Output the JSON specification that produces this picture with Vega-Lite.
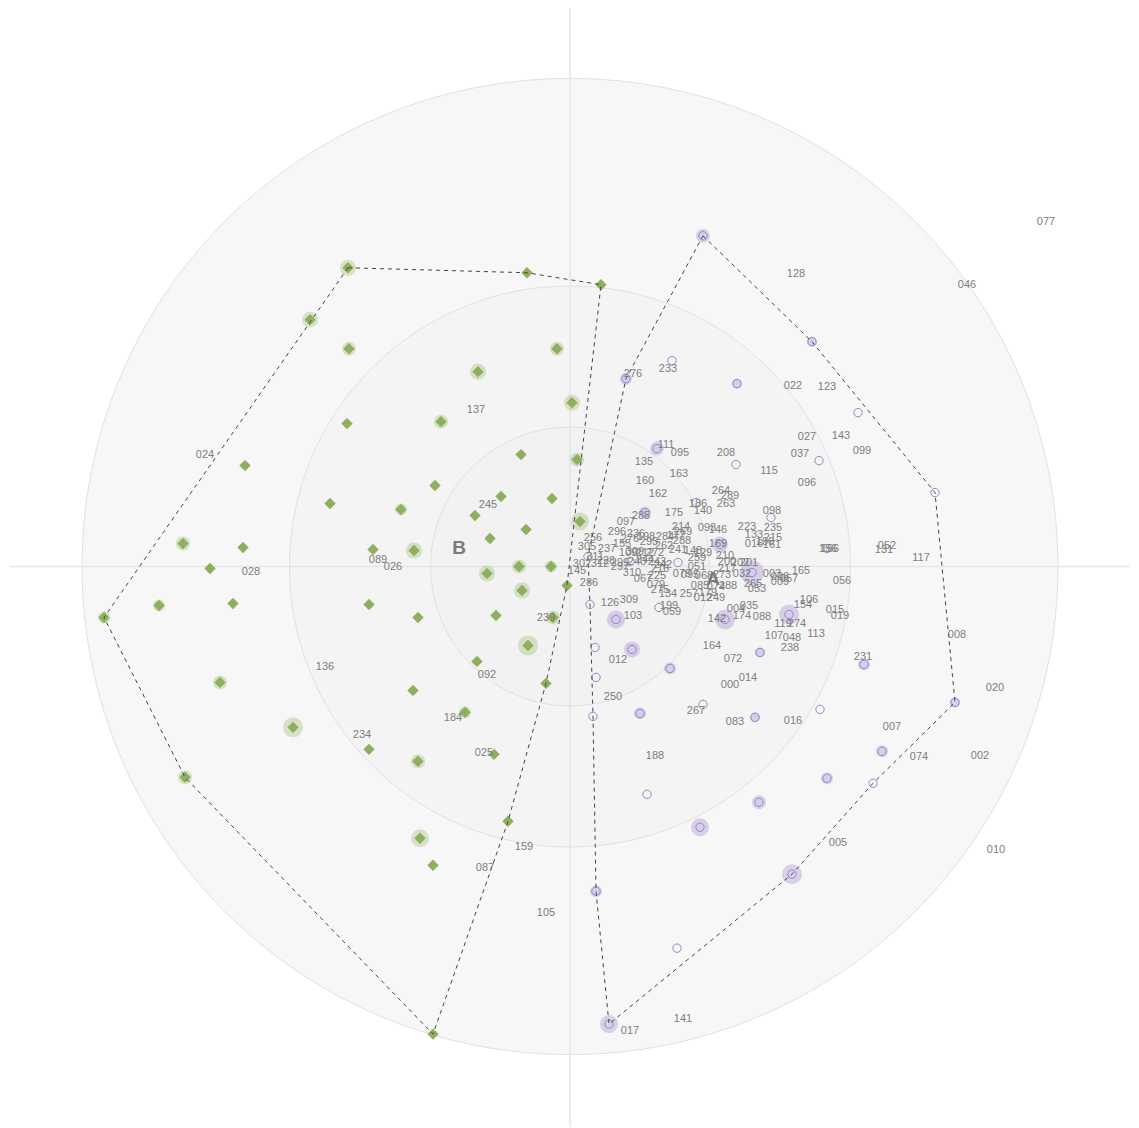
{
  "$schema": "https://vega.github.io/schema/vega-lite/v6.json",
  "width": 1139,
  "height": 1128,
  "padding": 0,
  "autosize": {"type": "fit", "contains": "padding"},
  "background": "#ffffff",
  "config": {"view": {"stroke": null}},
  "datasets": {
    "center": [{"x": 0, "y": 0}],
    "vline": [{"x": 0, "y": -561, "y2": 559}],
    "hline": [{"y": 0, "x": -560, "x2": 560}],
    "green": [
      {"x": -222, "y": 299, "h": 8}, {"x": -43, "y": 294, "h": 0}, {"x": 31, "y": 282, "h": 0},
      {"x": -260, "y": 247, "h": 8}, {"x": -221, "y": 218, "h": 7}, {"x": -13, "y": 218, "h": 7},
      {"x": -92, "y": 195, "h": 8}, {"x": 2, "y": 164, "h": 8}, {"x": -223, "y": 143, "h": 0},
      {"x": -129, "y": 145, "h": 7}, {"x": -49, "y": 112, "h": 0}, {"x": 7, "y": 107, "h": 7},
      {"x": -325, "y": 101, "h": 0}, {"x": -135, "y": 81, "h": 0}, {"x": -69, "y": 70, "h": 0},
      {"x": -18, "y": 68, "h": 0}, {"x": -240, "y": 63, "h": 0}, {"x": -169, "y": 57, "h": 6},
      {"x": -95, "y": 51, "h": 0}, {"x": 10, "y": 45, "h": 9}, {"x": -44, "y": 37, "h": 0},
      {"x": -80, "y": 28, "h": 0}, {"x": -387, "y": 23, "h": 7}, {"x": -327, "y": 19, "h": 0},
      {"x": -197, "y": 17, "h": 0}, {"x": -156, "y": 16, "h": 8}, {"x": -360, "y": -2, "h": 0},
      {"x": -51, "y": 0, "h": 7}, {"x": -19, "y": 0, "h": 6}, {"x": -83, "y": -7, "h": 8},
      {"x": -3, "y": -19, "h": 0}, {"x": -48, "y": -24, "h": 8}, {"x": -411, "y": -39, "h": 6},
      {"x": -337, "y": -37, "h": 0}, {"x": -466, "y": -51, "h": 6}, {"x": -201, "y": -38, "h": 0},
      {"x": -152, "y": -51, "h": 0}, {"x": -74, "y": -49, "h": 0}, {"x": -17, "y": -51, "h": 7},
      {"x": -42, "y": -79, "h": 10}, {"x": -350, "y": -116, "h": 7}, {"x": -93, "y": -95, "h": 0},
      {"x": -24, "y": -117, "h": 0}, {"x": -157, "y": -124, "h": 0}, {"x": -105, "y": -146, "h": 6},
      {"x": -277, "y": -161, "h": 10}, {"x": -201, "y": -183, "h": 0}, {"x": -152, "y": -195, "h": 7},
      {"x": -76, "y": -188, "h": 0}, {"x": -385, "y": -211, "h": 7}, {"x": -62, "y": -255, "h": 0},
      {"x": -150, "y": -272, "h": 9}, {"x": -137, "y": -299, "h": 0}, {"x": -137, "y": -468, "h": 0}
    ],
    "purple": [
      {"x": 133, "y": 331, "h": 7}, {"x": 242, "y": 225, "h": 5}, {"x": 365, "y": 74, "h": 0},
      {"x": 385, "y": -136, "h": 5}, {"x": 303, "y": -217, "h": 0}, {"x": 222, "y": -308, "h": 10},
      {"x": 39, "y": -458, "h": 9}, {"x": 26, "y": -325, "h": 6}, {"x": 23, "y": -150, "h": 0},
      {"x": 56, "y": 188, "h": 6}, {"x": 102, "y": 206, "h": 0}, {"x": 167, "y": 183, "h": 5},
      {"x": 288, "y": 154, "h": 0}, {"x": 249, "y": 106, "h": 0}, {"x": 87, "y": 118, "h": 7},
      {"x": 166, "y": 102, "h": 0}, {"x": 75, "y": 54, "h": 6}, {"x": 126, "y": 64, "h": 0},
      {"x": 150, "y": 22, "h": 8}, {"x": 201, "y": 49, "h": 0}, {"x": 257, "y": 18, "h": 0},
      {"x": 182, "y": -6, "h": 12}, {"x": 108, "y": 4, "h": 0}, {"x": 60, "y": 5, "h": 0},
      {"x": 18, "y": 10, "h": 0}, {"x": 20, "y": -38, "h": 0}, {"x": 46, "y": -53, "h": 9},
      {"x": 89, "y": -41, "h": 0}, {"x": 155, "y": -53, "h": 10}, {"x": 219, "y": -48, "h": 10},
      {"x": 25, "y": -81, "h": 0}, {"x": 62, "y": -83, "h": 8}, {"x": 26, "y": -111, "h": 0},
      {"x": 100, "y": -102, "h": 6}, {"x": 190, "y": -86, "h": 5}, {"x": 70, "y": -147, "h": 6},
      {"x": 133, "y": -138, "h": 0}, {"x": 185, "y": -151, "h": 5}, {"x": 250, "y": -143, "h": 0},
      {"x": 294, "y": -98, "h": 6}, {"x": 312, "y": -185, "h": 6}, {"x": 257, "y": -212, "h": 6},
      {"x": 189, "y": -236, "h": 7}, {"x": 130, "y": -261, "h": 9}, {"x": 77, "y": -228, "h": 0},
      {"x": 107, "y": -382, "h": 0}
    ],
    "hulls": [
      {"g": "B", "o": 0, "x": -222, "y": 299}, {"g": "B", "o": 1, "x": -43, "y": 294},
      {"g": "B", "o": 2, "x": 31, "y": 282}, {"g": "B", "o": 3, "x": -3, "y": -19},
      {"g": "B", "o": 4, "x": -24, "y": -117}, {"g": "B", "o": 5, "x": -62, "y": -255},
      {"g": "B", "o": 6, "x": -137, "y": -468}, {"g": "B", "o": 7, "x": -385, "y": -211},
      {"g": "B", "o": 8, "x": -466, "y": -51}, {"g": "B", "o": 9, "x": -222, "y": 299},
      {"g": "A", "o": 0, "x": 133, "y": 331}, {"g": "A", "o": 1, "x": 242, "y": 225},
      {"g": "A", "o": 2, "x": 365, "y": 74}, {"g": "A", "o": 3, "x": 385, "y": -136},
      {"g": "A", "o": 4, "x": 303, "y": -217}, {"g": "A", "o": 5, "x": 222, "y": -308},
      {"g": "A", "o": 6, "x": 39, "y": -458}, {"g": "A", "o": 7, "x": 26, "y": -325},
      {"g": "A", "o": 8, "x": 23, "y": -150}, {"g": "A", "o": 9, "x": 20, "y": -38},
      {"g": "A", "o": 10, "x": 18, "y": 10}, {"g": "A", "o": 11, "x": 56, "y": 188},
      {"g": "A", "o": 12, "x": 133, "y": 331}
    ],
    "labels": [
      {"t": "077", "x": 476, "y": 345}, {"t": "046", "x": 397, "y": 282}, {"t": "128", "x": 226, "y": 293},
      {"t": "233", "x": 98, "y": 198}, {"t": "276", "x": 63, "y": 193}, {"t": "022", "x": 223, "y": 181},
      {"t": "123", "x": 257, "y": 180}, {"t": "137", "x": -94, "y": 157}, {"t": "027", "x": 237, "y": 130},
      {"t": "143", "x": 271, "y": 131}, {"t": "099", "x": 292, "y": 116}, {"t": "111", "x": 96, "y": 122},
      {"t": "095", "x": 110, "y": 114}, {"t": "208", "x": 156, "y": 114}, {"t": "037", "x": 230, "y": 113},
      {"t": "024", "x": -365, "y": 112}, {"t": "135", "x": 74, "y": 105}, {"t": "115", "x": 199, "y": 96},
      {"t": "163", "x": 109, "y": 93}, {"t": "096", "x": 237, "y": 84}, {"t": "160", "x": 75, "y": 86},
      {"t": "264", "x": 151, "y": 76}, {"t": "289", "x": 160, "y": 71}, {"t": "162", "x": 88, "y": 73},
      {"t": "186", "x": 128, "y": 63}, {"t": "263", "x": 156, "y": 63}, {"t": "245", "x": -82, "y": 62},
      {"t": "175", "x": 104, "y": 54}, {"t": "140", "x": 133, "y": 56}, {"t": "098", "x": 202, "y": 56},
      {"t": "285", "x": 71, "y": 51}, {"t": "097", "x": 56, "y": 45}, {"t": "223", "x": 177, "y": 40},
      {"t": "235", "x": 203, "y": 39}, {"t": "214", "x": 111, "y": 40}, {"t": "093", "x": 137, "y": 39},
      {"t": "146", "x": 148, "y": 37}, {"t": "269", "x": 113, "y": 35}, {"t": "296", "x": 47, "y": 35},
      {"t": "236", "x": 66, "y": 33}, {"t": "133", "x": 184, "y": 32}, {"t": "215", "x": 203, "y": 29},
      {"t": "256", "x": 23, "y": 29}, {"t": "198", "x": 76, "y": 30}, {"t": "276", "x": 60, "y": 28},
      {"t": "284", "x": 95, "y": 30}, {"t": "177", "x": 106, "y": 31}, {"t": "288", "x": 112, "y": 26},
      {"t": "295", "x": 79, "y": 25}, {"t": "262", "x": 94, "y": 21}, {"t": "016", "x": 184, "y": 23},
      {"t": "161", "x": 202, "y": 22}, {"t": "106", "x": 195, "y": 25}, {"t": "169", "x": 148, "y": 23},
      {"t": "156", "x": 258, "y": 18}, {"t": "166", "x": 260, "y": 18}, {"t": "052", "x": 317, "y": 21},
      {"t": "131", "x": 314, "y": 17}, {"t": "117", "x": 351, "y": 9}, {"t": "305", "x": 17, "y": 20},
      {"t": "237", "x": 37, "y": 18}, {"t": "155", "x": 52, "y": 23}, {"t": "241", "x": 108, "y": 17},
      {"t": "148", "x": 123, "y": 16}, {"t": "129", "x": 133, "y": 14}, {"t": "309", "x": 65, "y": 15},
      {"t": "109", "x": 58, "y": 14}, {"t": "212", "x": 75, "y": 14}, {"t": "272", "x": 85, "y": 14},
      {"t": "210", "x": 155, "y": 11}, {"t": "259", "x": 127, "y": 9}, {"t": "200", "x": 157, "y": 5},
      {"t": "202", "x": 170, "y": 4}, {"t": "201", "x": 179, "y": 4}, {"t": "311", "x": 25, "y": 10},
      {"t": "302", "x": 12, "y": 3}, {"t": "312", "x": 30, "y": 2}, {"t": "226", "x": 36, "y": 6},
      {"t": "299", "x": 50, "y": 4}, {"t": "297", "x": 50, "y": -1}, {"t": "240", "x": 67, "y": 5},
      {"t": "244", "x": 75, "y": 7}, {"t": "243", "x": 87, "y": 5}, {"t": "242", "x": 93, "y": 1},
      {"t": "216", "x": 90, "y": -3}, {"t": "051", "x": 127, "y": -1}, {"t": "273", "x": 152, "y": -9},
      {"t": "217", "x": 157, "y": -3}, {"t": "032", "x": 172, "y": -8}, {"t": "225", "x": 87, "y": -10},
      {"t": "310", "x": 62, "y": -7}, {"t": "067", "x": 73, "y": -13}, {"t": "079", "x": 112, "y": -8},
      {"t": "095", "x": 120, "y": -9}, {"t": "068", "x": 134, "y": -10}, {"t": "085", "x": 130, "y": -20},
      {"t": "074", "x": 146, "y": -21}, {"t": "288", "x": 158, "y": -20}, {"t": "079", "x": 86, "y": -19},
      {"t": "275", "x": 90, "y": -24}, {"t": "134", "x": 98, "y": -28}, {"t": "257", "x": 119, "y": -28},
      {"t": "179", "x": 138, "y": -27}, {"t": "012", "x": 133, "y": -32}, {"t": "249", "x": 146, "y": -32},
      {"t": "003", "x": 202, "y": -8}, {"t": "006", "x": 210, "y": -11}, {"t": "009", "x": 210, "y": -16},
      {"t": "057", "x": 219, "y": -13}, {"t": "165", "x": 231, "y": -5}, {"t": "265", "x": 183, "y": -18},
      {"t": "053", "x": 187, "y": -23}, {"t": "056", "x": 272, "y": -15}, {"t": "004", "x": 166, "y": -43},
      {"t": "035", "x": 179, "y": -40}, {"t": "174", "x": 172, "y": -50}, {"t": "088", "x": 192, "y": -51},
      {"t": "142", "x": 147, "y": -53}, {"t": "106", "x": 239, "y": -34}, {"t": "154", "x": 233, "y": -39},
      {"t": "119", "x": 213, "y": -58}, {"t": "274", "x": 227, "y": -58}, {"t": "015", "x": 265, "y": -44},
      {"t": "019", "x": 270, "y": -50}, {"t": "126", "x": 40, "y": -37}, {"t": "309", "x": 59, "y": -34},
      {"t": "103", "x": 63, "y": -50}, {"t": "199", "x": 99, "y": -40}, {"t": "059", "x": 102, "y": -46},
      {"t": "107", "x": 204, "y": -70}, {"t": "048", "x": 222, "y": -72}, {"t": "113", "x": 246, "y": -68},
      {"t": "286", "x": 19, "y": -17}, {"t": "145", "x": 7, "y": -5}, {"t": "164", "x": 142, "y": -80},
      {"t": "072", "x": 163, "y": -93}, {"t": "238", "x": 220, "y": -82}, {"t": "012", "x": 48, "y": -94},
      {"t": "000", "x": 160, "y": -119}, {"t": "014", "x": 178, "y": -112}, {"t": "250", "x": 43, "y": -131},
      {"t": "267", "x": 126, "y": -145}, {"t": "083", "x": 165, "y": -156}, {"t": "016", "x": 223, "y": -155},
      {"t": "188", "x": 85, "y": -190}, {"t": "231", "x": 293, "y": -91}, {"t": "007", "x": 322, "y": -161},
      {"t": "074", "x": 349, "y": -191}, {"t": "005", "x": 268, "y": -277}, {"t": "002", "x": 410, "y": -190},
      {"t": "010", "x": 426, "y": -284}, {"t": "020", "x": 425, "y": -122}, {"t": "008", "x": 387, "y": -69},
      {"t": "017", "x": 60, "y": -465}, {"t": "141", "x": 113, "y": -453}, {"t": "105", "x": -24, "y": -347},
      {"t": "159", "x": -46, "y": -281}, {"t": "087", "x": -85, "y": -302}, {"t": "025", "x": -86, "y": -187},
      {"t": "184", "x": -117, "y": -152}, {"t": "234", "x": -208, "y": -169}, {"t": "136", "x": -245, "y": -101},
      {"t": "092", "x": -83, "y": -109}, {"t": "239", "x": -24, "y": -52}, {"t": "028", "x": -319, "y": -6},
      {"t": "089", "x": -192, "y": 7}, {"t": "026", "x": -177, "y": -1}
    ],
    "groups": [
      {"t": "A", "x": 143, "y": -13},
      {"t": "B", "x": -111, "y": 19}
    ]
  },
  "encoding": {
    "x": {"field": "x", "type": "quantitative", "axis": null, "scale": {"domain": [-570, 569], "zero": false, "nice": false}},
    "y": {"field": "y", "type": "quantitative", "axis": null, "scale": {"domain": [-561, 567], "zero": false, "nice": false}}
  },
  "layer": [
    {
      "data": {"name": "center"},
      "mark": {"type": "point", "shape": "circle", "filled": true, "fill": "#f7f7f7", "stroke": "#e1e1e1", "strokeWidth": 1, "opacity": 1, "size": 952576}
    },
    {
      "data": {"name": "center"},
      "mark": {"type": "point", "shape": "circle", "filled": true, "fill": "#f4f4f4", "stroke": "#e1e1e1", "strokeWidth": 1, "opacity": 1, "size": 314721}
    },
    {
      "data": {"name": "center"},
      "mark": {"type": "point", "shape": "circle", "filled": true, "fill": "#f2f2f2", "stroke": "#e1e1e1", "strokeWidth": 1, "opacity": 1, "size": 77841}
    },
    {
      "data": {"name": "vline"},
      "mark": {"type": "rule", "color": "#e6e6e6", "strokeWidth": 1.5},
      "encoding": {"x": {"field": "x", "type": "quantitative"}, "y": {"field": "y", "type": "quantitative"}, "y2": {"field": "y2"}}
    },
    {
      "data": {"name": "hline"},
      "mark": {"type": "rule", "color": "#e6e6e6", "strokeWidth": 1.5},
      "encoding": {"x": {"field": "x", "type": "quantitative"}, "x2": {"field": "x2"}, "y": {"field": "y", "type": "quantitative"}}
    },
    {
      "data": {"name": "green"},
      "transform": [{"filter": "datum.h > 0"}],
      "mark": {"type": "point", "shape": "circle", "filled": true, "color": "#8aae5b", "opacity": 0.3, "strokeWidth": 0},
      "encoding": {"size": {"field": "h", "type": "quantitative", "legend": null, "scale": {"type": "pow", "exponent": 2, "domain": [0, 20], "range": [0, 1600]}}}
    },
    {
      "data": {"name": "purple"},
      "transform": [{"filter": "datum.h > 0"}],
      "mark": {"type": "point", "shape": "circle", "filled": true, "color": "#9b87cc", "opacity": 0.35, "strokeWidth": 0},
      "encoding": {"size": {"field": "h", "type": "quantitative", "legend": null, "scale": {"type": "pow", "exponent": 2, "domain": [0, 20], "range": [0, 1600]}}}
    },
    {
      "data": {"name": "green"},
      "mark": {"type": "point", "shape": "diamond", "filled": true, "color": "#8cb05e", "opacity": 1, "size": 130, "strokeWidth": 0}
    },
    {
      "data": {"name": "purple"},
      "mark": {"type": "point", "shape": "circle", "filled": false, "stroke": "#9985c8", "opacity": 1, "size": 70, "strokeWidth": 1}
    },
    {
      "data": {"name": "hulls"},
      "mark": {"type": "line", "color": "#444444", "strokeWidth": 1, "strokeDash": [4, 4]},
      "encoding": {"detail": {"field": "g"}, "order": {"field": "o", "type": "quantitative"}}
    },
    {
      "data": {"name": "labels"},
      "mark": {"type": "text", "font": "Liberation Sans", "fontSize": 11, "fill": "#7c7c7c", "color": "#7c7c7c", "opacity": 0.99, "align": "center", "baseline": "middle"},
      "encoding": {"text": {"field": "t"}}
    },
    {
      "data": {"name": "groups"},
      "mark": {"type": "text", "font": "Liberation Sans", "fontSize": 19, "fontWeight": "bold", "fill": "#7a7a7a", "color": "#7a7a7a", "opacity": 0.99, "align": "center", "baseline": "middle"},
      "encoding": {"text": {"field": "t"}}
    }
  ]
}
